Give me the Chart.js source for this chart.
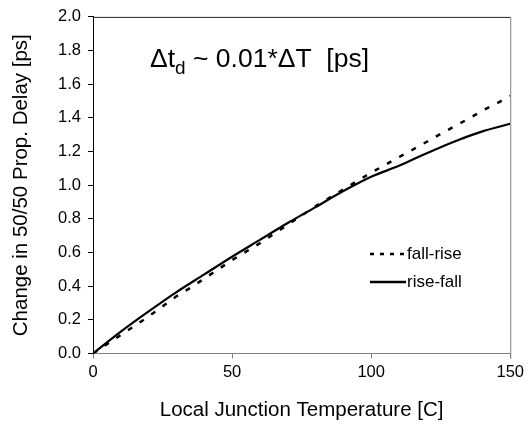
<!DOCTYPE html>
<html>
<head>
<meta charset="utf-8">
<script src="https://cdn.jsdelivr.net/npm/chart.js@4.4.0/dist/chart.umd.min.js"></script>
<style>
  html, body { margin: 0; padding: 0; background: #fff; }
  #wrap { width: 528px; height: 424px; }
</style>
</head>
<body>
<div id="wrap"><canvas id="chart" width="528" height="424"></canvas></div>
<script>
// DATA
const riseFallTemps = [0, 10, 20, 30, 40, 50, 60, 70, 80, 90, 100, 110, 120, 130, 140, 150];
const riseFall = [0, 0.13, 0.25, 0.365, 0.47, 0.575, 0.675, 0.775, 0.87, 0.965, 1.05, 1.115, 1.19, 1.26, 1.32, 1.365];

const fallRiseTemps = [0, 5, 10, 15, 20, 25, 30, 35, 40, 45, 50, 55, 60, 65, 70, 75,
  80, 85, 90, 95, 100, 105, 110, 115, 120, 125, 130, 135, 140, 145, 150];
const fallRise = [0, 0.055, 0.11, 0.165, 0.22, 0.28, 0.34, 0.39, 0.445, 0.5, 0.555, 0.605, 0.655, 0.71, 0.765, 0.82,
  0.875, 0.925, 0.975, 1.025, 1.075, 1.12, 1.167, 1.212, 1.258, 1.305, 1.35, 1.395, 1.443, 1.485, 1.53];

const seriesNames = ["fall-rise", "rise-fall"];
const xTitle = "Local Junction Temperature [C]";
const yTitle = "Change in 50/50 Prop. Delay [ps]";

const FONT = "'Liberation Sans', Arial, sans-serif";

const toPoints = (xs, ys) => xs.map((x, i) => ({ x: x, y: ys[i] }));

// top + right frame lines
const framePlugin = {
  id: "frame",
  afterDraw(chart) {
    const { ctx, chartArea: a } = chart;
    ctx.save();
    ctx.lineWidth = 1;
    ctx.strokeStyle = "#222";
    ctx.beginPath();
    ctx.moveTo(a.left, a.top + 0.5);
    ctx.lineTo(a.right, a.top + 0.5);
    ctx.stroke();
    ctx.strokeStyle = "#808080";
    ctx.beginPath();
    ctx.moveTo(a.right + 0.5, a.top);
    ctx.lineTo(a.right + 0.5, a.bottom + 5);
    ctx.stroke();
    ctx.restore();
  },
};

// formula text inside the plot
const formulaPlugin = {
  id: "formula",
  afterDraw(chart) {
    const ctx = chart.ctx;
    ctx.save();
    ctx.fillStyle = "#000";
    ctx.textBaseline = "alphabetic";
    let x = 150;
    const y = 67;
    ctx.font = "26.5px " + FONT;
    ctx.fillText("\u0394t", x, y);
    x += ctx.measureText("\u0394t").width;
    ctx.font = "19px " + FONT;
    ctx.fillText("d", x, y + 7);
    x += ctx.measureText("d").width;
    ctx.font = "26.5px " + FONT;
    ctx.fillText(" ~ 0.01*\u0394T  [ps]", x, y);
    ctx.restore();
  },
};

// legend drawn inside the plot area
const legendPlugin = {
  id: "insideLegend",
  afterDraw(chart) {
    const ctx = chart.ctx;
    const rows = [
      { y: 254, dash: [4, 6] },
      { y: 282, dash: [] },
    ];
    ctx.save();
    chart.data.datasets.forEach((ds, i) => {
      const r = rows[i];
      ctx.strokeStyle = ds.borderColor;
      ctx.lineWidth = 2.5;
      ctx.setLineDash(r.dash);
      ctx.beginPath();
      ctx.moveTo(370, r.y);
      ctx.lineTo(406, r.y);
      ctx.stroke();
      ctx.setLineDash([]);
      ctx.fillStyle = "#000";
      ctx.font = "17px " + FONT;
      ctx.textBaseline = "middle";
      ctx.fillText(ds.label, 407, r.y);
    });
    ctx.restore();
  },
};

const ctx = document.getElementById("chart").getContext("2d");

new Chart(ctx, {
  type: "line",
  data: {
    datasets: [
      {
        label: seriesNames[0],
        data: toPoints(fallRiseTemps, fallRise),
        borderColor: "#000",
        borderWidth: 2.5,
        borderDash: [5, 9],
        pointRadius: 0,
        tension: 0,
        fill: false,
      },
      {
        label: seriesNames[1],
        data: toPoints(riseFallTemps, riseFall),
        borderColor: "#000",
        borderWidth: 2.2,
        pointRadius: 0,
        cubicInterpolationMode: "monotone",
        fill: false,
      },
    ],
  },
  options: {
    responsive: false,
    animation: false,
    layout: { padding: { top: 13, right: 14, left: 0, bottom: 0 } },
    plugins: {
      legend: { display: false },
      tooltip: { enabled: false },
    },
    scales: {
      x: {
        type: "linear",
        min: 0,
        max: 150,
        ticks: {
          stepSize: 50,
          color: "#000",
          padding: 4,
          font: { family: FONT, size: 16.5 },
        },
        grid: { drawOnChartArea: false, tickLength: 5, color: "#808080" },
        border: { display: true, color: "#808080", width: 1 },
        title: {
          display: true,
          text: xTitle,
          color: "#000",
          font: { family: FONT, size: 20.5 },
          padding: { top: 0, bottom: 1 },
        },
        afterFit(scale) {
          scale.height = 70.5;
        },
      },
      y: {
        min: 0,
        max: 2,
        ticks: {
          stepSize: 0.2,
          color: "#000",
          padding: 7,
          font: { family: FONT, size: 16.5 },
          callback: (v) => v.toFixed(1),
        },
        grid: { drawOnChartArea: false, tickLength: 5, color: "#000" },
        border: { display: true, color: "#000", width: 1 },
        title: {
          display: true,
          text: yTitle,
          color: "#000",
          font: { family: FONT, size: 20.5 },
          padding: { top: 9, bottom: 0 },
        },
        afterFit(scale) {
          scale.width = 93;
        },
      },
    },
  },
  plugins: [framePlugin, formulaPlugin, legendPlugin],
});
</script>
</body>
</html>
